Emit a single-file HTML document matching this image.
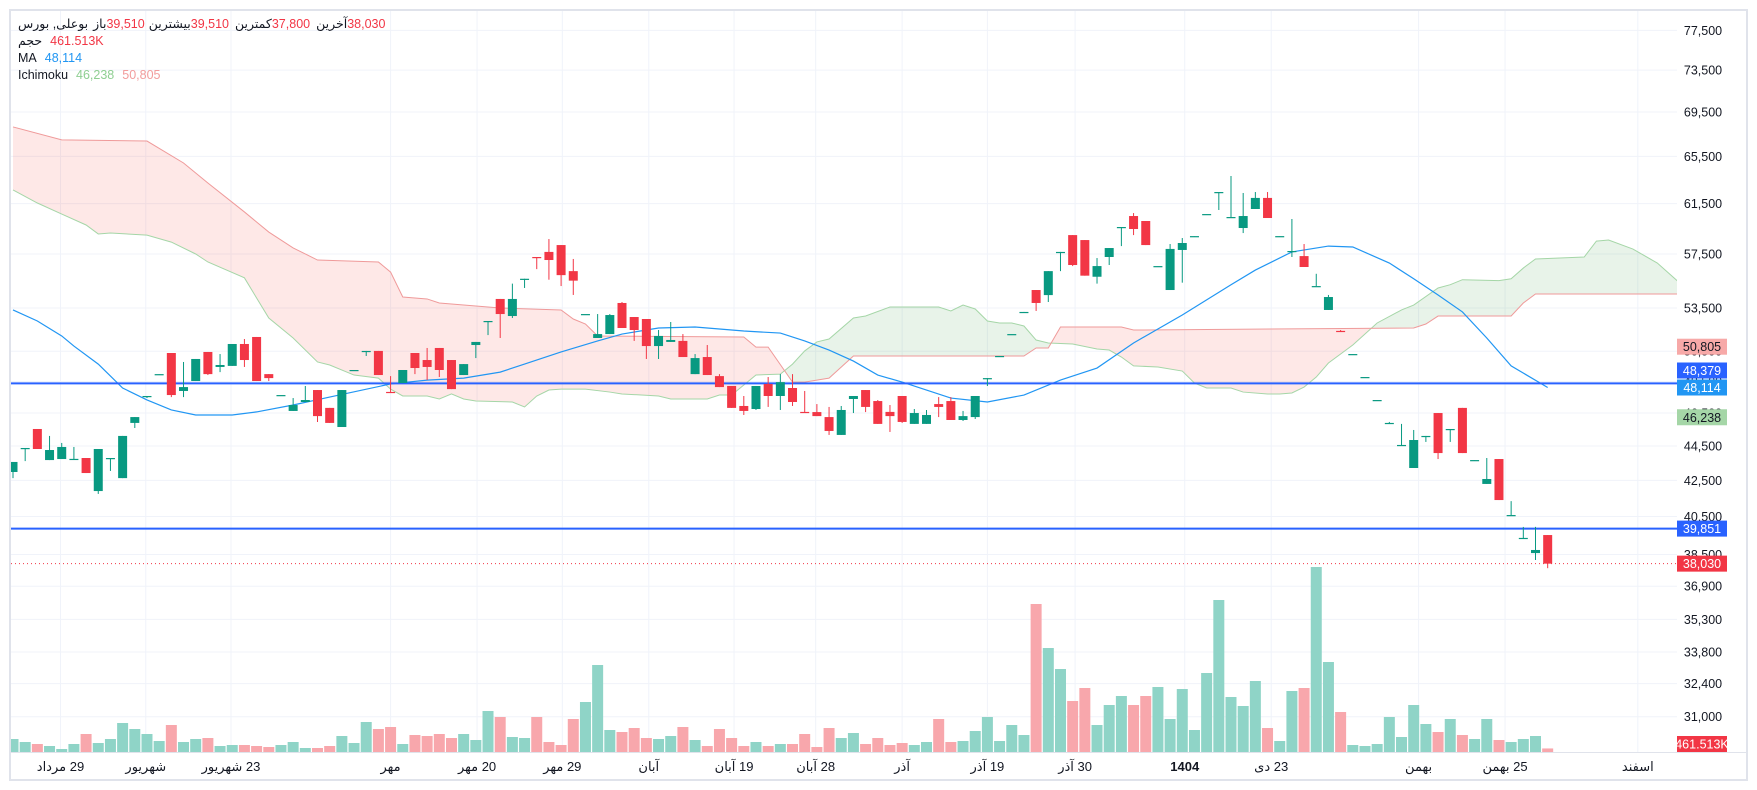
<!DOCTYPE html>
<html><head><meta charset="utf-8">
<style>
html,body{margin:0;padding:0;background:#fff;width:1757px;height:790px;overflow:hidden;}
#wrap{position:relative;width:1757px;height:790px;font-family:"Liberation Sans","DejaVu Sans",sans-serif;}
svg{position:absolute;left:0;top:0;}
.row{position:absolute;left:18px;display:flex;direction:ltr;font-size:12.5px;white-space:nowrap;line-height:16px;color:#131722;}
.row span{unicode-bidi:isolate;}
.r{color:#f23645}
</style></head>
<body>
<div id="wrap">
<svg id="chart" width="1757" height="790"></svg>
<div class="row" style="top:16px">
<span dir="rtl">بوعلی, بورس</span>
<span style="margin-left:5px" dir="rtl">باز</span>
<span class="r">39,510</span>
<span style="margin-left:4px" dir="rtl">بیشترین</span>
<span class="r">39,510</span>
<span style="margin-left:6px" dir="rtl">کمترین</span>
<span class="r">37,800</span>
<span style="margin-left:6px" dir="rtl">آخرین</span>
<span class="r">38,030</span>
</div>
<div class="row" style="top:33px">
<span dir="rtl">حجم</span>
<span class="r" style="margin-left:8px">461.513K</span>
</div>
<div class="row" style="top:50px">
<span>MA</span>
<span style="margin-left:8px;color:#2196f3">48,114</span>
</div>
<div class="row" style="top:67px">
<span>Ichimoku</span>
<span style="margin-left:8px;color:#8fcf92">46,238</span>
<span style="margin-left:8px;color:#f29c9c">50,805</span>
</div>
</div>
<script>
const openP=[42980,44360,45520,43670,43730,43730,43790,41900,43780,42630,45890,47560,48970,50380,47890,48530,50450,49450,49520,50990,51470,48980,47630,46630,47190,47950,46820,45640,49250,50510,50520,47830,48400,50380,49910,50720,49910,48920,50920,52570,54150,52930,55620,57270,57660,58190,56200,53070,51400,51670,53860,52860,52720,50850,51130,51200,48980,50110,48850,48210,46940,46750,48340,47570,48080,46570,46560,46250,45160,47380,47950,47250,46570,47570,45830,45830,47060,47250,46070,46250,48710,50170,51660,53210,54800,54430,57650,58970,58580,55780,57270,59600,60490,60090,56570,54800,57810,58880,60640,62450,60400,59530,61060,61970,58880,57660,57340,55080,53360,51890,50300,48780,47310,45880,44550,43210,45090,46500,45510,46820,43660,42300,43730,40570,39350,38570,39510];
const highP=[43560,44380,45520,45100,44680,44440,43790,44320,43790,45100,46250,47570,48980,50380,49780,49980,50450,50310,50990,51330,51470,48980,47630,47440,48210,47950,46820,47950,49250,50520,50520,48850,49250,50380,50720,50720,49910,49640,51130,52580,54150,55270,55630,57270,58660,58190,57120,53070,53070,53070,53930,52860,52720,51950,52510,51670,50310,50920,48980,48210,47570,48210,48790,48980,48980,47890,47060,46880,46940,47570,47950,47315,47000,47570,46750,46690,47500,47500,46630,47570,48720,50180,51670,53220,54800,56200,57660,58970,58580,57190,57960,59610,60730,60090,56580,58270,58740,58890,60650,62460,63810,62380,62460,62460,58890,60250,58270,56000,54440,51950,50310,48790,47315,45950,45830,45460,45100,46500,45520,46820,43670,43790,43730,41340,39940,39940,39510];
const lowP=[42630,43610,44320,43670,43730,43730,42920,41740,43040,42630,45580,47440,48970,47500,47500,48530,48920,49110,49520,49450,48530,48530,47630,46630,47190,45950,45890,45640,49250,50180,48920,47820,48400,48980,48594,48790,48010,48920,50040,51600,51400,52790,54950,56350,55560,55090,54440,53070,51400,51670,52090,51200,49980,49980,51130,50110,48980,48920,48140,46820,46380,46690,46880,46690,46940,46560,46310,45160,45160,46500,46560,45830,45340,45890,45830,45830,46250,46070,46010,46130,48210,50170,51660,53210,53290,53930,56200,56580,55860,55270,56660,58110,58970,58190,56570,54800,55340,58880,60640,60980,60400,59130,61060,60330,58880,57270,56510,55080,53360,51880,50300,48780,47310,45880,44550,43210,44740,43730,44740,44080,43660,42300,41400,40570,39350,38215,37800];
const closeP=[43560,44380,44320,44260,44440,43740,42920,44320,43790,45100,46250,47570,48980,47630,48140,49980,48980,49580,50990,49910,48530,48720,47630,47000,47315,46310,45890,47950,49250,50520,48920,47820,49250,49380,49450,49250,48010,49640,51130,52580,53070,54150,55630,57260,57040,55900,55490,53070,51670,53000,52090,51950,50850,51540,51264,50110,50040,48920,48140,46820,46630,48210,47570,48460,47190,46560,46310,45400,46690,47570,46880,45830,46310,45950,46500,46380,46880,46070,46310,47570,48720,50180,51670,53220,53860,56200,57660,56660,55860,56580,57960,59610,59450,58190,56580,57890,58350,58890,60650,62460,60410,60490,61970,60330,58890,57730,56510,55090,54290,51880,50310,48790,47315,45890,44560,44855,45100,44080,45520,44080,43670,42580,41400,40580,39360,38730,38030];
const volumeK=[1690,1300,1040,780,390,1040,2340,1170,1690,3770,2990,2340,1430,3510,1300,1690,1820,780,910,910,780,650,910,1300,520,520,780,2080,1170,3900,2990,3250,1040,2210,2080,2340,1820,2340,1560,5330,4550,1950,1820,4550,1300,910,4290,6500,11310,2860,2600,3120,1820,1690,2080,3250,1560,780,2990,1820,780,1300,780,1040,1040,2340,650,3120,1820,2470,1040,1820,910,1170,910,1300,4290,1300,1430,2730,4550,1430,3510,2210,19240,13520,10790,6630,8320,3510,6110,7280,6110,7280,8450,4290,8190,2860,10270,19760,7150,5980,9230,3120,1430,7930,8320,24050,11700,5200,910,780,1040,4550,1950,6110,3640,2600,4290,2210,1690,4290,1560,1300,1690,2080,461.5];
const maIdx=[0,2,4,5,7,9,11,13,15,18,20,23,26,31,34,37,40,42,45,48,50,53,56,60,63,65,67,69,71,73,77,80,83,86,89,92,96,100,102,105,108,110,113,115,117,119,121,123,126];
const maVal=[53360,52580,51540,50850,49640,48080,47320,46690,46380,46380,46570,47000,47500,48340,48590,48720,49110,49640,50450,51200,51670,52090,52160,51880,51740,51200,50580,49840,48920,48460,47440,47190,47630,48590,49380,51060,53000,55190,56280,57660,58110,58040,56810,55630,54440,53220,51400,49520,48114];
const spanAIdx=[0,2,4,6,7,8,11,13,15,16,19,20,21,23,25,26,28,30,31,32,34,35,36,37,38,41,42,43,44,45,47,49,50,53,54,57,58,59,61,63,64,65,66,67,69,70,72,76,77,78,79,80,81,82,83,84,85,87,89,90,91,92,94,96,97,98,100,101,103,104,105,106,107,108,110,112,114,115,117,118,119,122,123,124,125,129,130,131,133,135,137];
const spanAVal=[62630,61550,60650,59770,59060,59130,58970,58420,57500,56890,55700,54220,52790,51400,49780,49580,48920,48720,48010,47570,47570,47380,47700,47380,47250,47190,46880,47570,47950,48010,48010,47820,47700,47570,47380,47380,47630,47630,48920,48980,49640,50520,51130,51330,52790,52930,53570,53570,53290,53710,53430,52580,52440,52440,52230,51260,51060,50990,50650,50580,50110,49520,49450,49180,48400,48080,48080,47820,47700,47700,47760,48140,48790,49710,50920,52440,53360,53710,54950,55190,55560,55490,55630,56430,57120,57270,58500,58580,57880,56810,55190];
const spanBIdx=[0,4,11,14,16,19,21,23,25,30,31,32,34,35,40,45,46,47,48,60,61,62,64,65,67,69,83,84,85,86,91,92,115,116,117,123,124,125,137];
const spanBVal=[68130,66960,66860,64930,63220,60820,59210,57970,57040,56890,56130,54290,54150,53860,53500,53360,52720,52370,51540,51470,50780,50780,48460,48460,48720,50180,50180,50720,50720,52160,52160,51950,52090,52370,52930,52930,53860,54510,54510];
const priceTicks=[77500,73500,69500,65500,61500,57500,53500,50500,48500,46500,44500,42500,40500,38500,36900,35300,33800,32400,31000];
const timeLabels=["29 مرداد","شهریور","23 شهریور","مهر","20 مهر","29 مهر","آبان","19 آبان","28 آبان","آذر","19 آذر","30 آذر","1404","23 دی","بهمن","25 بهمن","اسفند"];
const timeIdx=[3.9,10.9,17.9,31.0,38.1,45.1,52.2,59.2,65.9,73.0,80.0,87.2,96.2,103.3,115.4,122.5,133.4];
const hLevels=[48379,39851];
const lastClose=38030;

const NS="http://www.w3.org/2000/svg";
const svg=document.getElementById('chart');
const PL=11,PR=1677,PT=11,PB=752;
function xI(i){return 13+i*12.18;}
function yP(p){return 308+(Math.log(53500)-Math.log(p))*749;}
const VMAX=24050,VH=185;
function yV(v){return PB-v/VMAX*VH;}
function el(tag,attrs,parent){const e=document.createElementNS(NS,tag);for(const k in attrs)e.setAttribute(k,attrs[k]);(parent||svg).appendChild(e);return e;}
function fmt(n){return n.toLocaleString('en-US');}

const frame=el('rect',{x:10,y:10,width:1737,height:770,fill:'#fff',stroke:'#e0e3eb','stroke-width':2});


const defs=el('defs',{});
const cp=el('clipPath',{id:'plot'},defs);
el('rect',{x:PL,y:PT,width:PR-PL,height:PB-PT},cp);

const grid=el('g',{});


priceTicks.forEach(p=>{const y=yP(p);el('line',{x1:PL,x2:PR,y1:y,y2:y,stroke:'#f0f3fa','stroke-width':1},grid);});
timeIdx.forEach(t=>{const x=xI(t);el('line',{x1:x,x2:x,y1:PT,y2:PB,stroke:'#f0f3fa','stroke-width':1},grid);});
el('line',{x1:PL,x2:1747,y1:PB+0.5,y2:PB+0.5,stroke:'#e0e3eb','stroke-width':1},grid);

const plot=el('g',{'clip-path':'url(#plot)'});



function pts(idx,val){return idx.map((i,k)=>[xI(i),yP(val[k])]);}
const A=pts(spanAIdx,spanAVal),B=pts(spanBIdx,spanBVal);
const between=A.concat(B.slice().reverse()).map(p=>p.join(',')).join(' ');
const cpA=el('clipPath',{id:'aboveB'},defs);
el('polygon',{points:B.concat([[B[B.length-1][0],0],[B[0][0],0]]).map(p=>p.join(',')).join(' ')},cpA);
const cpB=el('clipPath',{id:'belowB'},defs);
el('polygon',{points:B.concat([[B[B.length-1][0],800],[B[0][0],800]]).map(p=>p.join(',')).join(' ')},cpB);
const cloudG=el('g',{'clip-path':'url(#aboveB)'},plot);
const cg=el('polygon',{points:between,fill:'rgba(67,160,71,0.12)'},cloudG);


const cloudR=el('g',{'clip-path':'url(#belowB)'},plot);
const cr=el('polygon',{points:between,fill:'rgba(244,67,54,0.12)'},cloudR);


const la=el('polyline',{points:A.map(p=>p.join(',')).join(' '),fill:'none',stroke:'#a5d6a7','stroke-width':1},plot);


const lb=el('polyline',{points:B.map(p=>p.join(',')).join(' '),fill:'none',stroke:'#ef9a9a','stroke-width':1},plot);



const volG=el('g',{},plot);


volumeK.forEach((v,i)=>{const up=closeP[i]>=openP[i];const y=yV(v);
 const r=el('rect',{x:xI(i)-5.5,y:y,width:11,height:PB-y,fill:up?'#8fd4c7':'#f8a7ac'},volG);
 
 });

const maPts=maIdx.map((i,k)=>xI(i)+','+yP(maVal[k])).join(' ');
const ma=el('polyline',{points:maPts,fill:'none',stroke:'#2196f3','stroke-width':1.2},plot);



hLevels.forEach(p=>{const y=yP(p);const l=el('line',{x1:PL,x2:PR,y1:y,y2:y,stroke:'#2962ff','stroke-width':2},plot);
 
 });
const yc=yP(lastClose);
const dl=el('line',{x1:PL,x2:PR,y1:yc,y2:yc,stroke:'#f23645','stroke-width':1,'stroke-dasharray':'1,3'},plot);



const cG=el('g',{},plot);


openP.forEach((o,i)=>{const c=closeP[i];const up=c>=o;const col=up?'#089981':'#f23645';const x=xI(i);
 const g=el('g',{},cG);
 
 
 el('line',{x1:x,x2:x,y1:yP(highP[i]),y2:yP(lowP[i]),stroke:col,'stroke-width':1},g);
 const t=Math.min(yP(o),yP(c));let h=Math.abs(yP(o)-yP(c));if(h<1.2)h=1.2;
 el('rect',{x:x-4.5,y:t,width:9,height:h,fill:col},g);});

const ax=el('g',{});


priceTicks.forEach(p=>{const t=el('text',{x:1703,y:yP(p)+4.5,'text-anchor':'middle','font-size':12.5,fill:'#131722','font-family':'Liberation Sans, sans-serif'},ax);t.textContent=fmt(p);
 
 });
function box(cy,txt,bg,fg,name){const g=el('g',{},ax);
 
 
 el('rect',{x:1677,y:cy-8,width:50,height:16,fill:bg},g);
 const t=el('text',{x:1702,y:cy+4.5,'text-anchor':'middle','font-size':12.5,fill:fg,'font-family':'Liberation Sans, sans-serif'},g);t.textContent=txt;}
box(yP(50805),'50,805','#f7a9a8','#131722','ichimoku-b-price-tag');
box(370.5,fmt(hLevels[0]),'#2962ff','#fff','level-price-tag');
box(387.5,fmt(maVal[maVal.length-1]),'#2196f3','#fff','ma-price-tag');
box(yP(46238),'46,238','#a5d6a7','#131722','ichimoku-a-price-tag');
box(yP(hLevels[1]),fmt(hLevels[1]),'#2962ff','#fff','level-price-tag-2');
box(yc,fmt(lastClose),'#f23645','#fff','last-price-tag');
box(744,'461.513K','#f23645','#fff','volume-tag');

const tx=el('g',{});


timeLabels.forEach((s,k)=>{const t=el('text',{x:xI(timeIdx[k]),y:771,'text-anchor':'middle',direction:'rtl','font-size':13,fill:'#131722','font-weight':s==='1404'?'bold':'normal','font-family':'Liberation Sans, DejaVu Sans, sans-serif'},tx);t.textContent=s;
 
 });
</script>
</body></html>
